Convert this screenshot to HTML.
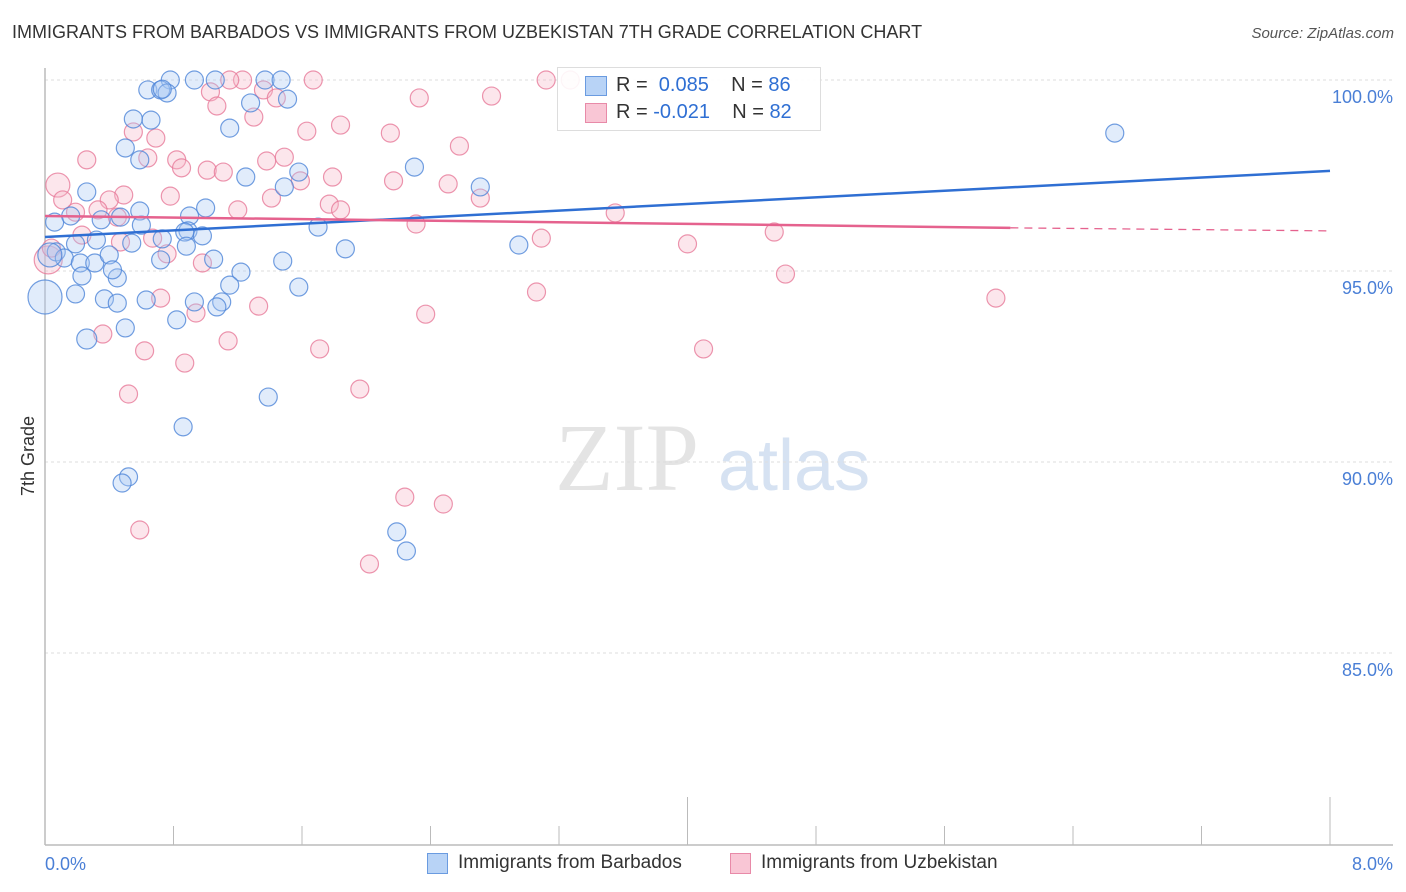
<!DOCTYPE html>
<html><head><meta charset="utf-8">
<style>
body{margin:0;background:#fff;font-family:"Liberation Sans",sans-serif;}
#wrap{position:relative;width:1406px;height:892px;overflow:hidden;}
.t{position:absolute;white-space:nowrap;}
</style></head>
<body>
<div id="wrap">
<div class="t" style="left:12px;top:22px;font-size:18px;color:#333;">IMMIGRANTS FROM BARBADOS VS IMMIGRANTS FROM UZBEKISTAN 7TH GRADE CORRELATION CHART</div>
<div class="t" style="right:12px;top:25px;font-size:15px;color:#555;font-style:italic;">Source: ZipAtlas.com</div>
<svg id="svg" width="1406" height="892" style="position:absolute;left:0;top:0"></svg>
</div>
<script>
const xTicksPct = [0,0.8,1.6,2.4,3.2,4.0,4.8,5.6,6.4,7.2,8.0];
const yTicks = [100,95,90,85];
const yTickLabels = ["100.0%","95.0%","90.0%","85.0%"];
const blueX = [0.93,1.06,1.37,1.47,0.78,0.64,0.72,0.76,0.73,1.15,1.28,1.51,0.55,0.66,0.50,0.59,1.25,1.58,1.49,2.30,2.71,6.66,0.26,0.59,1.00,0.90,0.06,0.16,0.35,0.47,0.60,0.89,0.98,0.87,0.73,0.54,0.32,0.19,0.07,0.12,0.22,0.31,0.40,0.23,0.45,0.42,0.72,1.05,0.88,1.22,1.15,1.48,1.58,1.70,1.87,2.95,0.19,0.37,0.45,0.63,0.93,1.10,1.07,0.50,0.82,0.26,1.39,0.86,0.52,0.48,2.19,2.25,0.0,0.03];
const blueY = [100,100,100,100,100,99.74,99.74,99.66,99.76,98.74,99.40,99.50,98.98,98.95,98.22,97.91,97.46,97.59,97.20,97.72,97.20,98.61,97.07,96.57,96.65,96.44,96.28,96.44,96.34,96.41,96.20,96.05,95.92,96.02,95.84,95.73,95.81,95.71,95.50,95.34,95.21,95.21,95.42,94.87,94.82,95.03,95.29,95.31,95.65,94.97,94.63,95.26,94.58,96.15,95.58,95.68,94.40,94.27,94.16,94.24,94.19,94.19,94.06,93.51,93.72,93.22,91.70,90.92,89.61,89.45,88.17,87.67,94.32,95.42];
const blueR = [9,9,9,9,9,9,9,9,9,9,9,9,9,9,9,9,9,9,9,9,9,9,9,9,9,9,9,9,9,9,9,9,9,9,9,9,9,9,9,9,9,9,9,9,9,9,9,9,9,9,9,9,9,9,9,9,9,9,9,9,9,9,9,9,9,10,9,9,9,9,9,9,17,12];
const pinkX = [1.23,1.15,1.67,3.12,3.27,1.03,1.07,1.36,1.44,2.33,2.78,1.30,1.63,1.84,2.15,2.58,0.55,0.69,0.64,0.26,0.82,0.85,1.01,1.11,1.38,1.49,1.79,2.17,2.51,0.08,0.11,0.49,0.40,0.33,0.19,0.45,0.78,1.41,1.59,1.77,1.84,1.20,2.71,2.31,3.55,3.09,4.00,4.54,0.23,0.47,0.67,0.76,0.98,0.02,0.04,0.72,0.94,1.33,2.37,3.06,4.61,5.92,0.36,1.14,0.62,0.87,1.71,4.10,1.96,0.52,2.24,2.48,0.59,2.02];
const pinkY = [100,100,100,100,100,99.69,99.32,99.74,99.53,99.53,99.58,99.03,98.66,98.82,98.61,98.27,98.64,98.48,97.96,97.91,97.91,97.70,97.64,97.59,97.88,97.98,97.46,97.36,97.28,97.25,96.86,96.99,96.86,96.60,96.54,96.41,96.96,96.91,97.36,96.75,96.60,96.60,96.91,96.23,96.52,95.86,95.71,96.02,95.94,95.76,95.86,95.45,95.21,95.29,95.60,94.29,93.90,94.08,93.87,94.45,94.92,94.29,93.35,93.17,92.91,92.59,92.96,92.96,91.91,91.78,89.08,88.90,88.22,87.33];
const pinkR = [9,9,9,9,9,9,9,9,9,9,9,9,9,9,9,9,9,9,9,9,9,9,9,9,9,9,9,9,9,12,9,9,9,9,9,9,9,9,9,9,9,9,9,9,9,9,9,9,9,9,9,9,9,14,9,9,9,9,9,9,9,9,9,9,9,9,9,9,9,9,9,9,9,9];
const blueTrend = [[0,95.89],[8,97.62]];
const pinkTrendSolid = [[0,96.44],[6.01,96.13]];
const pinkTrendDash = [[6.01,96.13],[8,96.05]];

const X0=45,X1=1330,Y100=80,PXPER=38.2,AXY=845;
const sx=v=>X0+(X1-X0)*v/8;
const sy=v=>Y100+(100-v)*PXPER;
const svg=document.getElementById('svg');
const NS='http://www.w3.org/2000/svg';
function mk(tag,attrs){const e=document.createElementNS(NS,tag);for(const k in attrs)e.setAttribute(k,attrs[k]);svg.appendChild(e);return e;}

// watermark
let w=mk('text',{x:555,y:490,'font-size':96,'font-family':'Liberation Serif, serif',fill:'#e4e4e4'});w.textContent='ZIP';


let w2=mk('text',{x:718,y:490,'font-size':72,'font-family':'Liberation Sans, sans-serif',fill:'#d6e2f2'});w2.textContent='atlas';



yTicks.forEach((v,i)=>{
  let g=mk('line',{x1:X0,x2:1393,y1:sy(v),y2:sy(v),stroke:'#ddd','stroke-dasharray':'3,3'});
  
  
  let t=mk('text',{x:1393,y:sy(v)+23,'text-anchor':'end','font-size':18,fill:'#4a7fd6'});t.textContent=yTickLabels[i];
  
  
});
let ya=mk('line',{x1:X0,x2:X0,y1:68,y2:AXY,stroke:'#bbb','stroke-width':1.5});


let xa=mk('line',{x1:X0,x2:1393,y1:AXY,y2:AXY,stroke:'#bbb','stroke-width':1.5});


xTicksPct.forEach((v,i)=>{
  let tk=mk('line',{x1:sx(v),x2:sx(v),y1:(i==5||i==10)?AXY-48:AXY-19,y2:AXY,stroke:'#bbb'});
  
  
});
let yl=mk('text',{x:34,y:456,'font-size':18,fill:'#333',transform:'rotate(-90 34 456)','text-anchor':'middle'});yl.textContent='7th Grade';


let xl0=mk('text',{x:45,y:870,'font-size':18,fill:'#4a7fd6'});xl0.textContent='0.0%';


let xl1=mk('text',{x:1393,y:870,'font-size':18,fill:'#4a7fd6','text-anchor':'end'});xl1.textContent='8.0%';



function dots(xs,ys,rs,fill,stroke,name){
  xs.forEach((x,i)=>{
    let c=mk('circle',{cx:sx(x),cy:sy(ys[i]),r:rs[i],fill:fill,'fill-opacity':0.35,stroke:stroke,'stroke-opacity':0.8,'stroke-width':1.2});
    
    
  });
}
dots(pinkX,pinkY,pinkR,'#f7b6c8','#e77a9a','uzbekistan-point');
dots(blueX,blueY,blueR,'#a9c9f3','#4f86d8','barbados-point');

function tl(p,color,dash,name){
  let l=mk('line',{x1:sx(p[0][0]),y1:sy(p[0][1]),x2:sx(p[1][0]),y2:sy(p[1][1]),stroke:color,'stroke-width':2.5});
  if(dash){l.setAttribute('stroke-dasharray','8,6');l.setAttribute('stroke-width',1.3);}
  
  
}
tl(blueTrend,'#2f6fd3',false,'barbados-trendline');
tl(pinkTrendSolid,'#e5628e',false,'uzbekistan-trendline');
tl(pinkTrendDash,'#e5628e',true,'uzbekistan-trendline-extension');
</script>
<div class="t" style="left:557px;top:67px;width:262px;height:62px;border:1px solid #ddd;background:rgba(255,255,255,0.9);font-size:20px;">
  <div class="t" style="left:27px;top:8px;width:20px;height:18px;background:#b8d3f6;border:1px solid #6a9be0;"></div>
  <div class="t" style="left:58px;top:6px;color:#333;">R = <span style="color:#2f6fd3">&nbsp;0.085</span>&nbsp;&nbsp;&nbsp; N = <span style="color:#2f6fd3">86</span></div>
  <div class="t" style="left:27px;top:35px;width:20px;height:18px;background:#f9c6d5;border:1px solid #e88aa8;"></div>
  <div class="t" style="left:58px;top:33px;color:#333;">R = <span style="color:#2f6fd3">-0.021</span>&nbsp;&nbsp;&nbsp; N = <span style="color:#2f6fd3">82</span></div>
</div>
<div class="t" style="left:427px;top:853px;width:19px;height:19px;background:#b8d3f6;border:1px solid #6a9be0;"></div>
<div class="t" style="left:458px;top:852px;font-size:19px;color:#333;">Immigrants from Barbados</div>
<div class="t" style="left:730px;top:853px;width:19px;height:19px;background:#f9c6d5;border:1px solid #e88aa8;"></div>
<div class="t" style="left:761px;top:852px;font-size:19px;color:#333;">Immigrants from Uzbekistan</div>
</body></html>
